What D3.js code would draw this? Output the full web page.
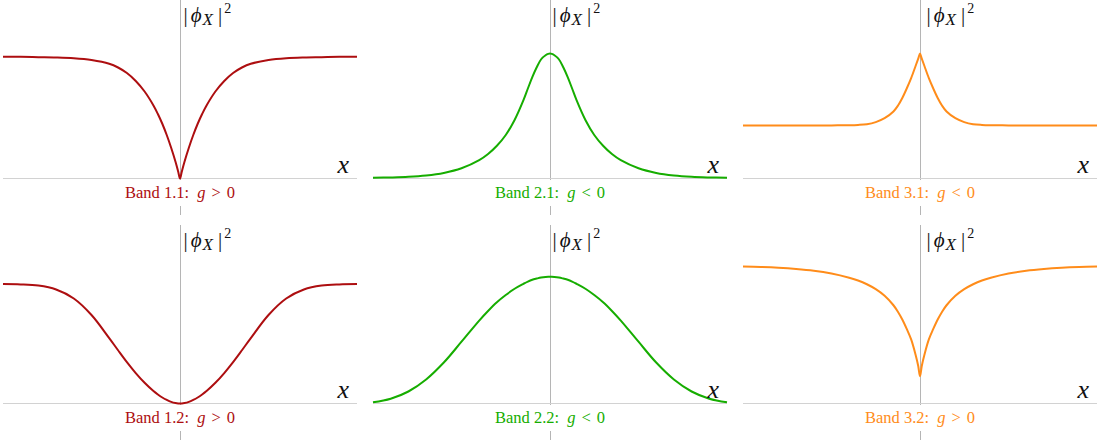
<!DOCTYPE html>
<html><head><meta charset="utf-8">
<script src="https://cdn.jsdelivr.net/npm/d3@7"></script>
<style>body{margin:0;background:#fff} svg{display:block} text{font-family:"Liberation Serif","DejaVu Serif",serif}</style>
</head><body><svg id="c" width="1100" height="441"></svg>
<script>
// x positions (arbitrary units, symmetric around 0)
const xGrid = [-10,-9,-8,-7,-6,-5,-4,-3.5,-3,-2.5,-2,-1.5,-1.25,-1,-0.75,-0.5,-0.25,-0.1,0,0.1,0.25,0.5,0.75,1,1.25,1.5,2,2.5,3,3.5,4,5,6,7,8,9,10];

// |phi_X|^2 values (0..1 relative scale)
const band11 = [0.812,0.811,0.809,0.807,0.802,0.79,0.765,0.74,0.703,0.65,0.58,0.487,0.43,0.365,0.29,0.205,0.11,0.045,0,0.045,0.11,0.205,0.29,0.365,0.43,0.487,0.58,0.65,0.703,0.74,0.765,0.79,0.802,0.807,0.809,0.811,0.812];
const band21 = [0.005,0.007,0.011,0.02,0.037,0.068,0.122,0.163,0.218,0.29,0.39,0.522,0.6,0.676,0.742,0.795,0.822,0.831,0.833,0.831,0.822,0.795,0.742,0.676,0.6,0.522,0.39,0.29,0.218,0.163,0.122,0.068,0.037,0.02,0.011,0.007,0.005];
const band31 = [0.353,0.353,0.353,0.353,0.353,0.354,0.355,0.357,0.362,0.376,0.402,0.447,0.485,0.537,0.60,0.669,0.75,0.799,0.833,0.799,0.75,0.669,0.60,0.537,0.485,0.447,0.402,0.376,0.362,0.357,0.355,0.354,0.353,0.353,0.353,0.353,0.353];
const band12 = [0.796,0.794,0.786,0.76,0.70,0.59,0.436,0.355,0.276,0.203,0.138,0.083,0.06,0.04,0.024,0.011,0.003,0.0005,0,0.0005,0.003,0.011,0.024,0.04,0.06,0.083,0.138,0.203,0.276,0.355,0.436,0.59,0.70,0.76,0.786,0.794,0.796];
const band22 = [0.008,0.032,0.08,0.16,0.273,0.412,0.553,0.617,0.675,0.723,0.765,0.798,0.813,0.825,0.833,0.84,0.844,0.845,0.845,0.845,0.844,0.84,0.833,0.825,0.813,0.798,0.765,0.723,0.675,0.617,0.553,0.412,0.273,0.16,0.08,0.032,0.008];
const band32 = [0.913,0.91,0.905,0.897,0.885,0.866,0.838,0.82,0.795,0.762,0.718,0.655,0.612,0.56,0.497,0.427,0.325,0.25,0.182,0.25,0.325,0.427,0.497,0.56,0.612,0.655,0.718,0.762,0.795,0.82,0.838,0.866,0.885,0.897,0.905,0.91,0.913];

const bandNames = ["Band 1.1","Band 2.1","Band 3.1","Band 1.2","Band 2.2","Band 3.2"];
const couplingSigns = [">","<","<",">","<",">"];
const bandSeries = [band11, band21, band31, band12, band22, band32];
const bandColors = ["#ad0e10","#16ad00","#ff8c1a","#ad0e10","#16ad00","#ff8c1a"];

const colCenters = [180, 550, 920];
const rowAxis = [178.5, 403.5];
const labelOffsets = [3, 2, 6];
const halfW = 177, plotH = 150;

const svg = d3.select("#c");

bandSeries.forEach((vals, i) => {
  const col = i % 3, row = Math.floor(i / 3);
  const cx = colCenters[col], ay = rowAxis[row];
  const x = d3.scaleLinear().domain([-10, 10]).range([cx - halfW, cx + halfW]);
  const y = d3.scaleLinear().domain([0, 1]).range([ay, ay - plotH]);
  const g = svg.append("g");
  const vx = Math.round(x(0)) + 0.5;

  // vertical axis
  g.append("line").attr("x1", vx).attr("x2", vx)
    .attr("y1", ay - 178.5).attr("y2", ay + 36.5)
    .attr("stroke", "#b5b5b5").attr("stroke-width", 1);
  // horizontal axis
  g.append("line").attr("x1", x(-10)).attr("x2", x(10))
    .attr("y1", y(0)).attr("y2", y(0))
    .attr("stroke", "#d2d2d2").attr("stroke-width", 1);

  // curve
  const pts = xGrid.map((xv, k) => [xv, vals[k]]);
  g.append("path").datum(pts)
    .attr("d", d3.line().x(d => x(d[0])).y(d => y(d[1])).curve(d3.curveCatmullRom.alpha(0.5)))
    .attr("fill", "none").attr("stroke", bandColors[i]).attr("stroke-width", 2)
    .attr("stroke-linejoin", "round");

  // y label |phi_X|^2
  const yl = g.append("text").attr("x", vx + labelOffsets[col]).attr("y", ay - 157)
    .attr("font-size", 21).attr("fill", "#111");
  yl.append("tspan").text("|");
  yl.append("tspan").attr("font-style", "italic").attr("dx", 3).text("ϕ");
  yl.append("tspan").attr("font-style", "italic").attr("font-size", 17).attr("dx", 1).attr("dy", 3).text("X");
  yl.append("tspan").attr("dy", -3).attr("dx", 5).text("|");
  yl.append("tspan").attr("font-size", 14).attr("dx", 2).attr("dy", -9).text("2");

  // x label
  g.append("text").attr("x", cx + 169).attr("y", ay - 5.5)
    .attr("text-anchor", "end")
    .attr("font-style", "italic").attr("font-size", 26).attr("fill", "#111").text("x");

  // caption with white background
  const cap = g.append("text").attr("x", cx).attr("y", ay + 19)
    .attr("text-anchor", "middle")
    .attr("font-size", 16.5).attr("fill", bandColors[i]);
  cap.append("tspan").text(bandNames[i] + ":");
  cap.append("tspan").attr("dx", 8).attr("font-style", "italic").text("g");
  cap.append("tspan").attr("dx", 6).text(couplingSigns[i]);
  cap.append("tspan").attr("dx", 6).text("0");
  const bb = cap.node().getBBox();
  g.insert("rect", "text").attr("x", bb.x - 3).attr("y", ay + 1.5)
    .attr("width", bb.width + 6).attr("height", 26).attr("fill", "#fff");
});
</script></body></html>
